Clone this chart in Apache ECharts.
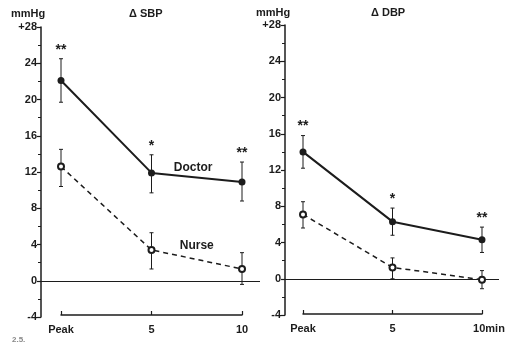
<!DOCTYPE html>
<html>
<head>
<meta charset="utf-8">
<script src="https://cdn.jsdelivr.net/npm/echarts@6/dist/echarts.min.js"></script>
<style>
  html, body { margin: 0; padding: 0; background: #fff; }
  #main { width: 509px; height: 354px; }
</style>
</head>
<body>
<div id="main"></div>
<script>
// time points: Peak, 5 min, 10 min
const times = [0, 5, 10];
const leftTimeLabels = ['Peak', '5', '10'];
const rightTimeLabels = ['Peak', '5', '10min'];

// delta SBP
const sbpDoctor = [22.1, 11.9, 10.9];
const sbpDoctorHi = [24.5, 13.9, 13.1];
const sbpDoctorLo = [19.7, 9.7, 8.8];
const sbpNurse = [12.6, 3.4, 1.3];
const sbpNurseHi = [14.5, 5.3, 3.1];
const sbpNurseLo = [10.4, 1.3, -0.4];
const sbpStars = ['**', '*', '**'];

// delta DBP
const dbpDoctor = [14.0, 6.3, 4.3];
const dbpDoctorHi = [15.8, 7.8, 5.7];
const dbpDoctorLo = [12.2, 4.8, 2.9];
const dbpNurse = [7.1, 1.25, -0.1];
const dbpNurseHi = [8.5, 2.3, 0.9];
const dbpNurseLo = [5.6, 0.0, -1.1];
const dbpStars = ['**', '*', '**'];

const ink = '#1c1c1c';
const font = 'Liberation Sans';

const pairs = (ys) => times.map((t, i) => [t, ys[i]]);
const bars = (lo, hi) => times.map((t, i) => [t, lo[i], hi[i]]);

function errorBar(params, api) {
  const x = api.value(0);
  const top = api.coord([x, api.value(2)]);
  const bot = api.coord([x, api.value(1)]);
  const st = { stroke: ink, lineWidth: 1 };
  return {
    type: 'group',
    children: [
      { type: 'line', shape: { x1: top[0], y1: top[1], x2: bot[0], y2: bot[1] }, style: st },
      { type: 'line', shape: { x1: top[0] - 2, y1: top[1], x2: top[0] + 2, y2: top[1] }, style: st },
      { type: 'line', shape: { x1: bot[0] - 2, y1: bot[1], x2: bot[0] + 2, y2: bot[1] }, style: st }
    ]
  };
}

function starRenderer(stars) {
  return function (params, api) {
    const p = api.coord([api.value(0), api.value(1)]);
    return {
      type: 'text',
      style: {
        x: p[0], y: p[1] - 2, text: stars[params.dataIndex],
        textAlign: 'center', textVerticalAlign: 'bottom',
        font: 'bold 14px ' + font, fill: ink
      }
    };
  };
}

function yAxisFor(gridIndex) {
  return {
    gridIndex: gridIndex,
    type: 'value', min: -4, max: 28, interval: 4,
    axisLine: { show: true, onZero: false, lineStyle: { color: ink, width: 1.5 } },
    axisTick: { show: true, length: 4, lineStyle: { color: ink, width: 1.2 } },
    minorTick: { show: true, splitNumber: 2, length: 3, lineStyle: { color: ink, width: 1 } },
    splitLine: { show: false },
    axisLabel: {
      margin: 4, color: ink, fontFamily: font, fontWeight: 'bold', fontSize: 11,
      formatter: (v) => (v === 28 ? '+28' : String(v))
    }
  };
}

function bracketAxis(gridIndex, labels) {
  return {
    gridIndex: gridIndex,
    type: 'value', min: 0, max: 10, interval: 5,
    axisLine: { show: true, onZero: false, lineStyle: { color: ink, width: 1.5 } },
    axisTick: { show: true, inside: true, length: 4, lineStyle: { color: ink, width: 1.2 } },
    splitLine: { show: false },
    axisLabel: {
      margin: 9, color: ink, fontFamily: font, fontWeight: 'bold', fontSize: 11,
      formatter: (v) => {
        const s = labels[times.indexOf(v)];
        // "10min" hangs to the right of its tick
        return s.length > 3 && v === 10 ? '{shift|' + s + '}' : s;
      },
      rich: { shift: { padding: [0, 0, 0, 14], color: ink, fontFamily: font, fontWeight: 'bold', fontSize: 11 } }
    }
  };
}

function zeroLine() {
  return {
    silent: true, symbol: 'none', label: { show: false },
    lineStyle: { color: ink, width: 1.2, type: 'solid' },
    data: [{ yAxis: 0 }]
  };
}

function tag(text, coord) {
  return {
    silent: true,
    symbol: 'rect', symbolSize: 1, itemStyle: { color: 'rgba(0,0,0,0)' },
    label: {
      show: true, position: 'inside', formatter: text, color: ink,
      fontFamily: font, fontWeight: 'bold', fontSize: 12
    },
    data: [{ coord: coord }]
  };
}

function panel(xi, doctor, dLo, dHi, nurse, nLo, nHi, stars, withTags) {
  const doc = {
    type: 'line', xAxisIndex: xi, yAxisIndex: xi, data: pairs(doctor),
    symbol: 'circle', symbolSize: 7, z: 5,
    lineStyle: { color: ink, width: 2 }, itemStyle: { color: ink },
    markLine: zeroLine()
  };
  const nur = {
    type: 'line', xAxisIndex: xi, yAxisIndex: xi, data: pairs(nurse),
    symbol: 'emptyCircle', symbolSize: 6, z: 5,
    lineStyle: { color: ink, width: 1.5, type: [5, 4] },
    itemStyle: { color: ink, borderColor: ink, borderWidth: 1.2 }
  };
  if (withTags) {
    doc.markPoint = tag('Doctor', [7.3, 12.5]);
    nur.markPoint = tag('Nurse', [7.5, 3.9]);
  }
  return [
    { type: 'custom', xAxisIndex: xi, yAxisIndex: xi, data: bars(dLo, dHi), renderItem: errorBar, z: 3 },
    { type: 'custom', xAxisIndex: xi, yAxisIndex: xi, data: bars(nLo, nHi), renderItem: errorBar, z: 3 },
    { type: 'custom', xAxisIndex: xi, yAxisIndex: xi, data: pairs(dHi), renderItem: starRenderer(stars), z: 4 },
    doc, nur
  ];
}

const chart = echarts.init(document.getElementById('main'), null, { renderer: 'canvas' });

const titleStyle = { color: ink, fontFamily: font, fontWeight: 'bold', fontSize: 11 };

chart.setOption({
  backgroundColor: '#fff',
  animation: false,
  title: [
    { text: 'mmHg', left: 11, top: 8, padding: 0, textStyle: titleStyle },
    { text: 'Δ SBP', left: 129, top: 8, padding: 0, textStyle: titleStyle },
    { text: 'mmHg', left: 256, top: 7, padding: 0, textStyle: titleStyle },
    { text: 'Δ DBP', left: 371, top: 7, padding: 0, textStyle: titleStyle },
    { text: '2.5.', left: 12, top: 336, padding: 0, textStyle: { color: '#888', fontFamily: font, fontSize: 8 } }
  ],
  grid: [
    { left: 41, top: 27, width: 219, height: 290 },
    { left: 285, top: 25, width: 214, height: 290 },
    { left: 61, top: 314, width: 181, height: 1 },
    { left: 303, top: 313, width: 179, height: 1 }
  ],
  xAxis: [
    { gridIndex: 0, type: 'value', min: -1.105, max: 10.994, show: false },
    { gridIndex: 1, type: 'value', min: -1.006, max: 10.95, show: false },
    bracketAxis(2, leftTimeLabels),
    bracketAxis(3, rightTimeLabels)
  ],
  yAxis: [
    yAxisFor(0),
    yAxisFor(1),
    { gridIndex: 2, type: 'value', min: 0, max: 1, show: false },
    { gridIndex: 3, type: 'value', min: 0, max: 1, show: false }
  ],
  series: [].concat(
    panel(0, sbpDoctor, sbpDoctorLo, sbpDoctorHi, sbpNurse, sbpNurseLo, sbpNurseHi, sbpStars, true),
    panel(1, dbpDoctor, dbpDoctorLo, dbpDoctorHi, dbpNurse, dbpNurseLo, dbpNurseHi, dbpStars, false)
  )
});
</script>
</body>
</html>
